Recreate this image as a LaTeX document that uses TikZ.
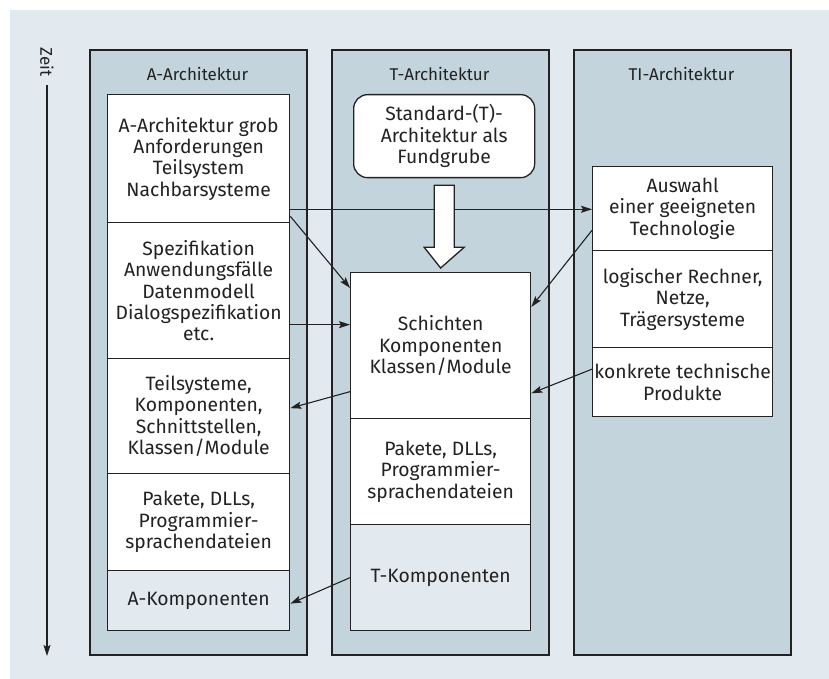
\documentclass[tikz,border=0pt]{standalone}
\usepackage{fontspec}
\setmainfont{Fira Sans}
\usetikzlibrary{arrows.meta,calc}

\definecolor{pagebg}{HTML}{E2EAF0}
\definecolor{colbg}{HTML}{C3D4DC}
\definecolor{ink}{HTML}{222222}

\tikzset{
  column/.style={draw=ink, line width=1.6pt, fill=colbg, anchor=north west, inner sep=0pt},
  coltitle/.style={font=\fontsize{17}{20}\selectfont, text=ink},
  cell/.style={draw=ink, line width=1.3pt, fill=white, anchor=north west, inner sep=1pt,
    align=center, font=\fontsize{19.3}{21.4}\selectfont, text=ink},
  lightcell/.style={cell, fill=pagebg},
  link/.style={draw=ink, line width=1.1pt, -{Stealth[length=11pt,width=7pt,inset=2pt]}},
}

\begin{document}
\begin{tikzpicture}[x=1pt,y=-1pt]
  \useasboundingbox (0,0) rectangle (829,679);
  \fill[pagebg] (10,10) rectangle (829,679);

  % time axis
  \node[rotate=-90, font=\fontsize{17}{20}\selectfont, text=ink] (zeit) at (47,62) {Zeit};
  \coordinate (ztop) at (47,85);
  \coordinate (zbot) at (47,656);
  \draw[link] (ztop) -- (zbot);

  % columns
  \node[column, minimum width=217, minimum height=605] (colA) at (89,49) {};
  \node[column, minimum width=217, minimum height=605] (colT) at (331,49) {};
  \node[column, minimum width=217, minimum height=605] (colTI) at (573,49) {};
  \node[coltitle] (tA) at (197.5,74) {A-Architektur};
  \node[coltitle] (tT) at (439.5,74) {T-Architektur};
  \node[coltitle] (tTI) at (681.5,74) {TI-Architektur};

  % A-Architektur
  \node[cell, minimum width=182, minimum height=128] (a1) at (107,94)
    {A-Architektur grob\\Anforderungen\\Teilsystem\\Nachbarsysteme};
  \node[cell, minimum width=182, minimum height=136] (a2) at (107,222)
    {Spezifikation\\Anwendungsfälle\\Datenmodell\\Dialogspezifikation\\etc.};
  \node[cell, minimum width=182, minimum height=115] (a3) at (107,358)
    {Teilsysteme,\\Komponenten,\\Schnittstellen,\\Klassen/Module};
  \node[cell, minimum width=182, minimum height=97] (a4) at (107,473)
    {Pakete, DLLs,\\Programmier-\\sprachendateien};
  \node[lightcell, minimum width=182, minimum height=60] (a5) at (107,570)
    {A-Komponenten};

  % T-Architektur
  \node[cell, rounded corners=14pt, minimum width=181, minimum height=83] (std) at (353,94)
    {Standard-(T)-\\Architektur als\\Fundgrube};
  \node[cell, minimum width=180, minimum height=146] (s1) at (350,272)
    {Schichten\\Komponenten\\Klassen/Module};
  \node[cell, minimum width=180, minimum height=106] (s2) at (350,418)
    {Pakete, DLLs,\\Programmier-\\sprachendateien};
  \node[lightcell, minimum width=180, minimum height=106] (s3) at (350,524)
    {T-Komponenten};

  % TI-Architektur
  \node[cell, minimum width=180, minimum height=84] (ti1) at (592,166)
    {Auswahl\\einer geeigneten\\Technologie};
  \node[cell, minimum width=180, minimum height=97] (ti2) at (592,250)
    {logischer Rechner,\\Netze,\\Trägersysteme};
  \node[cell, minimum width=180, minimum height=69] (ti3) at (592,347)
    {konkrete technische\\Produkte};

  % connectors
  \coordinate (p1) at ([yshift=14pt]a1.south east);
  \draw[link] (p1) -- (ti1.west |- p1);
  \draw[link] ([yshift=7pt]a1.south east) -- ([yshift=-16pt]s1.north west);
  \coordinate (p2) at ([yshift=-34pt]a2.east);
  \draw[link] (p2) -- (s1.west |- p2);
  \draw[link] ([yshift=-46pt]s1.west) -- ([yshift=8pt]a3.east);
  \draw[link] ([yshift=21pt]ti1.south west) -- ([yshift=-35pt]s1.north east);
  \draw[link] ([yshift=13pt]ti3.west) -- ([yshift=26pt]s1.south east);
  \draw[link] (s3.west) -- ([yshift=-3pt]a5.east);

  % hollow block arrow from the standard architecture down to the layers
  \draw[ink, line width=1.3pt, fill=white, line join=miter]
    ($(std.south)+(-10,7)$) -- ($(std.south)+(10,7)$) -- ($(std.south)+(10,69)$)
    -- ($(std.south)+(20,69)$) -- ($(s1.north)+(0,-4)$) -- ($(std.south)+(-20,69)$)
    -- ($(std.south)+(-10,69)$) -- cycle;
\end{tikzpicture}
\end{document}
